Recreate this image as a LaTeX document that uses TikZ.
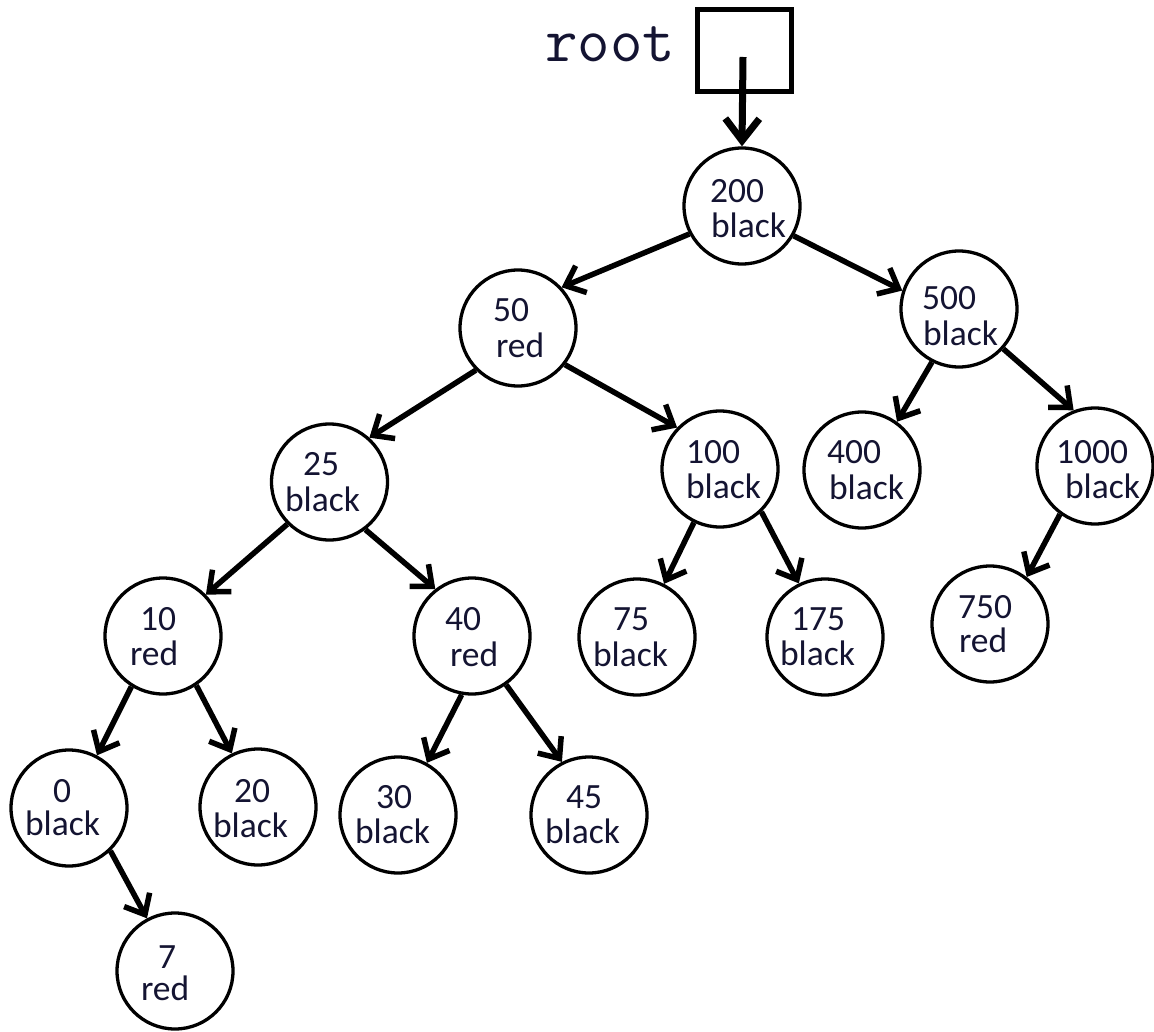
\documentclass[tikz,border=0pt]{standalone}
\usepackage{fontspec}
\setmainfont{Carlito}
\usetikzlibrary{arrows.meta}
\definecolor{txt}{RGB}{20,20,50}
\begin{document}
\begin{tikzpicture}[x=1pt,y=-1pt,
  rb/.style={circle,draw,line width=3.3pt,minimum size=116pt,inner sep=0pt},
  lab/.style={anchor=base west,inner sep=0pt,outer sep=0pt,text=txt,font=\fontsize{35.5}{36}\selectfont},
  treeedge/.style={line width=5.5pt,-{Straight Barb[length=17pt,width=29pt]}},
  rootedge/.style={line width=7pt,-{Straight Barb[length=22pt,width=34pt]}}]
\useasboundingbox (0,0) rectangle (1154,1032);
% root pointer
\node[draw,line width=5pt,minimum width=94pt,minimum height=82pt,inner sep=0pt] (rootbox) at (744.5,50.5) {};
\node[anchor=base west,inner sep=0pt,text=txt,font=\ttfamily\fontsize{63}{63}\selectfont] (rootlab) at (545,62) {root};
\coordinate (rs) at (743,57);
% circles
\node[rb] (n200) at (742,206) {};
\node[rb] (n50) at (518,328) {};
\node[rb] (n500) at (959,309) {};
\node[rb] (n25) at (329.5,482) {};
\node[rb] (n100) at (720,469) {};
\node[rb] (n400) at (862,470) {};
\node[rb] (n1000) at (1095,466) {};
\node[rb] (n10) at (163,636) {};
\node[rb] (n40) at (472,636) {};
\node[rb] (n75) at (637,637) {};
\node[rb] (n175) at (825,637) {};
\node[rb] (n750) at (990,624) {};
\node[rb] (n0) at (69,808) {};
\node[rb] (n20) at (258,807) {};
\node[rb] (n30) at (398,815) {};
\node[rb] (n45) at (589,815) {};
\node[rb] (n7) at (175,971) {};
% labels
\node[lab] (t200a) at (710,203) {200};   \node[lab] (t200b) at (711,238) {black};
\node[lab] (t50a) at (493,322) {50};     \node[lab] (t50b) at (496,357) {red};
\node[lab] (t500a) at (922,310) {500};   \node[lab] (t500b) at (923,345) {black};
\node[lab] (t25a) at (303,475) {25};     \node[lab] (t25b) at (285,511) {black};
\node[lab] (t100a) at (686,463) {100};   \node[lab] (t100b) at (686,498) {black};
\node[lab] (t400a) at (827,463) {400};   \node[lab] (t400b) at (829,499) {black};
\node[lab] (t1000a) at (1056,463) {1000};\node[lab] (t1000b) at (1065,498) {black};
\node[lab] (t10a) at (140,630) {10};     \node[lab] (t10b) at (130,665) {red};
\node[lab] (t40a) at (445,630) {40};     \node[lab] (t40b) at (450,666) {red};
\node[lab] (t75a) at (613,630) {75};     \node[lab] (t75b) at (593,666) {black};
\node[lab] (t175a) at (791,630) {175};   \node[lab] (t175b) at (780,665) {black};
\node[lab] (t750a) at (958,618) {750};   \node[lab] (t750b) at (959,652) {red};
\node[lab] (t0a) at (53,802) {0};        \node[lab] (t0b) at (25,835) {black};
\node[lab] (t20a) at (234,802) {20};     \node[lab] (t20b) at (213,837) {black};
\node[lab] (t30a) at (376,808) {30};     \node[lab] (t30b) at (355,843) {black};
\node[lab] (t45a) at (566,808) {45};     \node[lab] (t45b) at (545,843) {black};
\node[lab] (t7a) at (158,968) {7};       \node[lab] (t7b) at (141,1000) {red};
% connectors
\draw[rootedge] (rs) -- (n200.north);
\draw[treeedge] (n200.208) -- (n50.43);
\draw[treeedge] (n200.330) -- (n500.162);
\draw[treeedge] (n50.225) -- (n25.48);
\draw[treeedge] (n50.322) -- (n100.136);
\draw[treeedge] (n500.243) -- (n400.54);
\draw[treeedge] (n500.318) -- (n1000.111);
\draw[treeedge] (n25.225) -- (n10.44);
\draw[treeedge] (n25.307) -- (n40.128);
\draw[treeedge] (n100.244) -- (n75.63);
\draw[treeedge] (n100.314) -- (n175.116);
\draw[treeedge] (n1000.234) -- (n750.52);
\draw[treeedge] (n10.238) -- (n0.62);
\draw[treeedge] (n10.304) -- (n20.116);
\draw[treeedge] (n40.260) -- (n30.61);
\draw[treeedge] (n40.305) -- (n45.117);
\draw[treeedge] (n0.314) -- (n7.118);
\end{tikzpicture}
\end{document}
